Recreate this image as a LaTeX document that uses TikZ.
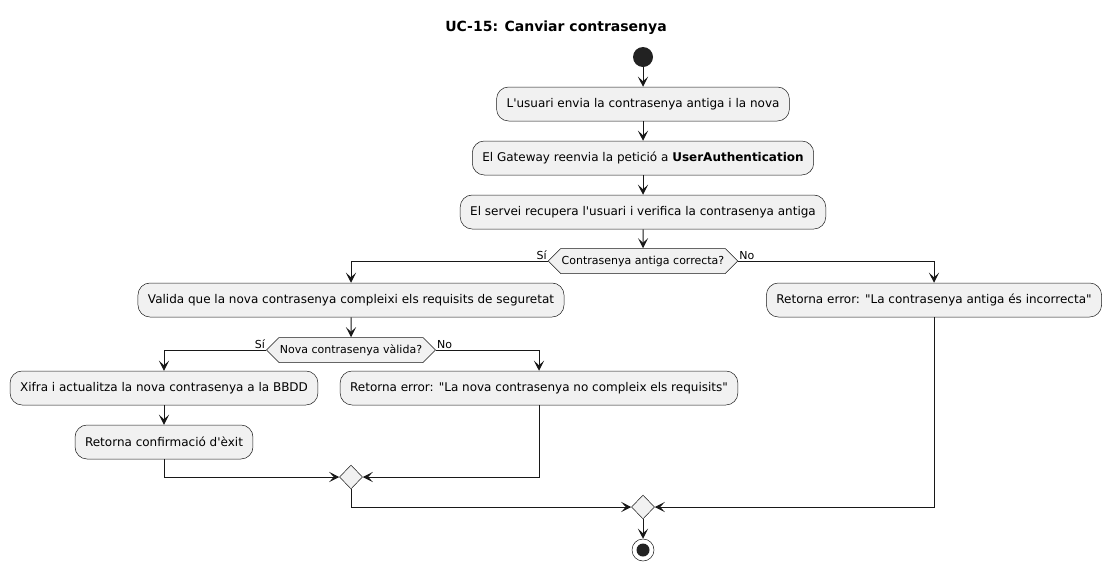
\documentclass[tikz,border=0pt]{standalone}
\usepackage{fontspec}
\setmainfont{DejaVu Sans}
\usetikzlibrary{arrows.meta,shapes.geometric,shapes.symbols}
\definecolor{boxfill}{HTML}{F1F1F1}
\definecolor{linecol}{HTML}{181818}
\definecolor{dotcol}{HTML}{222222}
\newcommand{\sq}{\textquotesingle}
\newcommand{\dq}{\textquotedbl}
\begin{document}
\begin{tikzpicture}[x=1pt,y=-1pt,
    act/.style={draw=linecol,fill=boxfill,line width=0.5pt,rounded corners=12pt,
        minimum height=34pt,inner xsep=10pt,font=\fontsize{12}{14}\selectfont},
    dec/.style={draw=linecol,fill=boxfill,line width=0.5pt,signal,signal to=west and east,
        signal pointer angle=90,minimum height=25pt,inner xsep=1pt,inner ysep=0pt,
        font=\fontsize{11}{13}\selectfont},
    merge/.style={draw=linecol,fill=boxfill,line width=0.5pt,diamond,inner sep=0pt,
        minimum width=23pt,minimum height=24pt},
    lbl/.style={inner sep=1pt,font=\fontsize{11}{13}\selectfont},
    flow/.style={draw=linecol,line width=1pt,-{Stealth[length=10pt,width=10pt,inset=4.5pt]}}]
    \useasboundingbox (0,0) rectangle (1112,571);

    \node[font=\bfseries\fontsize{14}{16}\selectfont] (title) at (556,28) {UC-15: Canviar contrasenya};
    \node[circle,fill=dotcol,minimum size=20pt,inner sep=0pt] (start) at (643,57) {};

    \node[act] (envia) at (643,104) {L\sq usuari envia la contrasenya antiga i la nova};
    \node[act] (reenvia) at (643,158) {El Gateway reenvia la petició a \textbf{UserAuthentication}};
    \node[act] (verifica) at (643,212) {El servei recupera l\sq usuari i verifica la contrasenya antiga};

    \node[dec] (antiga) at (643,261) {Contrasenya antiga correcta?};
    \node[lbl,anchor=south east] (antigasi) at (antiga.west) {Sí};
    \node[lbl,anchor=south west] (antigano) at (antiga.east) {No};

    \node[act] (valida) at (351,300) {Valida que la nova contrasenya compleixi els requisits de seguretat};
    \node[act] (errantiga) at (934,300) {Retorna error: \dq La contrasenya antiga és incorrecta\dq};

    \node[dec] (nova) at (351,350) {Nova contrasenya vàlida?};
    \node[lbl,anchor=south east] (novasi) at (nova.west) {Sí};
    \node[lbl,anchor=south west] (novano) at (nova.east) {No};

    \node[act] (xifra) at (164,388) {Xifra i actualitza la nova contrasenya a la BBDD};
    \node[act] (confirma) at (164,442) {Retorna confirmació d\sq èxit};
    \node[act] (errnova) at (539,388) {Retorna error: \dq La nova contrasenya no compleix els requisits\dq};

    \node[merge] (merge1) at (351,477) {};
    \node[merge] (merge2) at (643,507) {};

    \node[circle,draw=linecol,fill=white,line width=0.5pt,minimum size=22pt,inner sep=0pt,
        path picture={\fill[dotcol] (path picture bounding box.center) circle (6.5pt);}] (stop) at (643,550) {};

    % connectors
    \draw[flow] (start) -- (envia);
    \draw[flow] (envia) -- (reenvia);
    \draw[flow] (reenvia) -- (verifica);
    \draw[flow] (verifica) -- (antiga);
    \draw[flow] (antiga.west) -| (valida);
    \draw[flow] (antiga.east) -| (errantiga);
    \draw[flow] (valida) -- (nova);
    \draw[flow] (nova.west) -| (xifra);
    \draw[flow] (nova.east) -| (errnova);
    \draw[flow] (xifra) -- (confirma);
    \draw[flow] (confirma) |- (merge1);
    \draw[flow] (errnova) |- (merge1);
    \draw[flow] (merge1) |- (merge2);
    \draw[flow] (errantiga) |- (merge2);
    \draw[flow] (merge2) -- (stop);
\end{tikzpicture}
\end{document}
